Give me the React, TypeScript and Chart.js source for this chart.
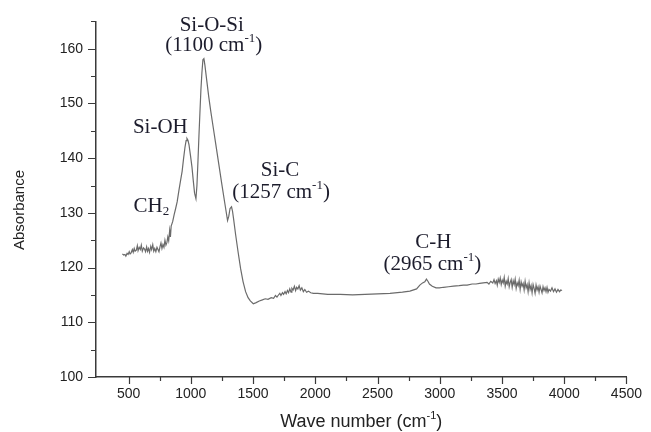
import React, { useEffect, useRef } from "react";
import { Chart, registerables } from "chart.js";

Chart.register(...registerables);

// FTIR spectrum, as [wave number (cm^-1), absorbance] pairs, split by region
const bandRegion: [number, number][] = [
  [450, 122.5], [460, 122.3], [470, 122.4], [478, 122.1], [488, 122.6], [496, 122.4], [505, 122.9], [512, 122.5],
  [520, 122.7], [530, 123.3], [537, 122.8], [545, 123.5], [552, 123.0], [562, 123.2], [570, 124.0], [576, 123.1],
  [585, 123.7], [594, 123.3], [602, 124.1], [610, 123.0], [620, 123.6], [628, 123.4], [636, 122.9], [645, 123.8],
  [652, 123.0], [660, 123.5], [668, 122.8], [678, 123.9], [685, 123.3], [694, 124.2], [702, 123.0], [710, 123.5],
  [719, 122.9], [728, 123.7], [736, 123.3], [744, 122.9], [752, 123.8], [760, 124.5], [768, 123.5], [776, 124.2],
  [784, 123.7], [792, 125.0], [800, 124.1], [808, 124.6], [815, 125.6], [822, 124.9], [830, 126.8], [836, 125.6],
  [842, 127.6], [854, 128.4], [866, 129.7], [878, 130.8], [890, 132.0], [905, 134.2], [918, 136.0], [930, 137.6],
  [942, 140.0], [953, 142.0], [962, 143.2], [969, 143.6], [977, 143.3], [985, 142.5], [997, 140.5], [1009, 138.4],
  [1020, 135.8], [1030, 133.6], [1041, 132.6], [1049, 135.0], [1057, 139.3], [1065, 144.0], [1073, 148.3], [1081, 152.5],
  [1089, 155.6], [1097, 158.0], [1105, 158.2], [1113, 157.0], [1129, 154.0], [1144, 151.2], [1160, 148.6], [1180, 145.6],
  [1200, 142.6], [1224, 139.0], [1248, 135.4], [1272, 131.9], [1295, 128.6], [1305, 129.4], [1315, 130.8], [1327, 131.1],
  [1335, 130.3], [1343, 129.0], [1360, 126.0], [1380, 122.8], [1400, 119.8], [1420, 117.4], [1440, 115.6], [1460, 114.5],
  [1478, 113.9],
];

const midRegion: [number, number][] = [
  [1502, 113.4], [1525, 113.6], [1550, 113.9], [1575, 114.1], [1598, 114.3], [1620, 114.2], [1646, 114.5], [1665, 114.4],
  [1680, 114.9], [1692, 114.6], [1701, 114.9], [1715, 115.3], [1724, 114.9], [1736, 115.4], [1745, 115.1], [1757, 115.6],
  [1766, 115.2], [1776, 115.8], [1785, 115.4], [1795, 116.1], [1805, 115.5], [1812, 116.2], [1822, 115.9], [1832, 116.6],
  [1842, 115.8], [1850, 116.4], [1860, 116.1], [1870, 116.7], [1880, 115.9], [1892, 116.3], [1904, 115.6], [1916, 116.0],
  [1930, 115.5], [1945, 115.7], [1963, 115.4], [1985, 115.3], [2019, 115.3], [2060, 115.2], [2100, 115.1], [2200, 115.1],
  [2300, 115.0], [2400, 115.1], [2500, 115.2], [2600, 115.3], [2700, 115.5], [2760, 115.7], [2814, 116.1], [2840, 116.8],
  [2862, 117.2], [2880, 117.4], [2893, 117.9], [2905, 117.5], [2917, 117.0], [2940, 116.6], [2970, 116.3], [2997, 116.3],
  [3030, 116.4], [3070, 116.5], [3110, 116.6], [3156, 116.7], [3190, 116.8], [3220, 116.8], [3260, 117.0], [3291, 117.0],
  [3320, 117.1], [3350, 117.2],
];

const highRegion: [number, number][] = [
  [3380, 117.3], [3395, 117.0], [3410, 117.5], [3426, 117.2], [3436, 117.8], [3445, 117.1], [3455, 117.6], [3462, 116.8],
  [3470, 117.9], [3478, 117.3], [3486, 118.1], [3494, 116.9], [3502, 117.7], [3510, 117.2], [3518, 118.2], [3526, 116.6],
  [3534, 117.5], [3542, 117.0], [3550, 118.0], [3558, 116.5], [3566, 117.3], [3574, 117.8], [3582, 116.4], [3590, 117.6],
  [3598, 116.9], [3606, 117.9], [3614, 116.2], [3622, 117.2], [3630, 116.7], [3638, 117.7], [3646, 116.0], [3654, 117.4],
  [3662, 116.6], [3670, 117.1], [3678, 115.9], [3686, 117.5], [3694, 116.3], [3702, 116.9], [3710, 115.6], [3718, 117.2],
  [3726, 116.0], [3734, 116.7], [3742, 115.4], [3750, 116.9], [3758, 116.2], [3766, 115.3], [3774, 116.8], [3782, 115.9],
  [3790, 116.5], [3798, 115.5], [3806, 116.6], [3814, 116.0], [3822, 115.4], [3830, 116.5], [3838, 115.8], [3846, 116.3],
  [3854, 115.6], [3862, 116.4], [3870, 115.5], [3878, 116.0], [3890, 115.7], [3902, 116.3], [3914, 115.6], [3926, 116.1],
  [3938, 115.5], [3950, 116.0], [3962, 115.6], [3972, 115.9], [3983, 115.8],
];

const xTickValues = [500, 1000, 1500, 2000, 2500, 3000, 3500, 4000, 4500];
const xMinorTickValues = [750, 1250, 1750, 2250, 2750, 3250, 3750, 4250];
const yTickValues = [100, 110, 120, 130, 140, 150, 160];
const yMinorTickValues = [105, 115, 125, 135, 145, 155, 165];

type Part = { t: string; sup?: boolean; sub?: boolean };
const xTitle: Part[] = [{ t: "Wave number (cm" }, { t: "-1", sup: true }, { t: ")" }];
const yTitle = "Absorbance";

// Peak annotations, anchored in data units (wave number, absorbance)
const peakLabelParts: Part[][] = [
  [{ t: "Si-O-Si" }],
  [{ t: "(1100 cm" }, { t: "-1", sup: true }, { t: ")" }],
  [{ t: "Si-OH" }],
  [{ t: "CH" }, { t: "2", sub: true }],
  [{ t: "Si-C" }],
  [{ t: "(1257 cm" }, { t: "-1", sup: true }, { t: ")" }],
  [{ t: "C-H" }],
  [{ t: "(2965 cm" }, { t: "-1", sup: true }, { t: ")" }],
];
const peakLabelX = [1168, 1184, 755, 683, 1717, 1725, 2949, 2941];
const peakLabelY = [164.5, 160.8, 145.8, 131.5, 138.0, 134.0, 124.8, 120.8];

function drawParts(
  ctx: CanvasRenderingContext2D,
  parts: Part[],
  cx: number,
  cy: number,
  size: number,
  family: string,
  color: string
) {
  const mainFont = `${size}px ${family}`;
  const smallFont = `${Math.round(size * 0.6)}px ${family}`;
  const widths = parts.map((p) => {
    ctx.font = p.sup || p.sub ? smallFont : mainFont;
    return ctx.measureText(p.t).width;
  });
  const total = widths.reduce((a, b) => a + b, 0);
  let x = cx - total / 2;
  const baseline = cy + size * 0.33;
  ctx.fillStyle = color;
  ctx.textAlign = "left";
  ctx.textBaseline = "alphabetic";
  parts.forEach((p, i) => {
    ctx.font = p.sup || p.sub ? smallFont : mainFont;
    const dy = p.sup ? -size * 0.42 : p.sub ? size * 0.18 : 0;
    ctx.fillText(p.t, x, baseline + dy);
    x += widths[i];
  });
}

export default function App() {
  const ref = useRef<HTMLCanvasElement>(null);

  useEffect(() => {
    document.body.style.margin = "0";
    const canvas = ref.current;
    if (!canvas) return;

    const points = [...bandRegion, ...midRegion, ...highRegion].map(([w, a]) => ({ x: w, y: a }));
    const axisColor = "#3a3a3a";
    const serif = "'Liberation Serif', 'Times New Roman', serif";
    const sans = "'Liberation Sans', Arial, sans-serif";

    const decor = {
      id: "decor",
      afterDraw(chart: any) {
        const ctx: CanvasRenderingContext2D = chart.ctx;
        const xs = chart.scales.x;
        const ys = chart.scales.y;
        const area = chart.chartArea;
        ctx.save();
        ctx.strokeStyle = axisColor;
        ctx.lineWidth = 1.2;
        ctx.beginPath();
        xTickValues.forEach((v) => {
          const px = Math.round(xs.getPixelForValue(v)) + 0.5;
          ctx.moveTo(px, area.bottom);
          ctx.lineTo(px, area.bottom + 7);
        });
        xMinorTickValues.forEach((v) => {
          const px = Math.round(xs.getPixelForValue(v)) + 0.5;
          ctx.moveTo(px, area.bottom);
          ctx.lineTo(px, area.bottom + 4);
        });
        yTickValues.forEach((v) => {
          const py = Math.round(ys.getPixelForValue(v)) + 0.5;
          ctx.moveTo(area.left - 8, py);
          ctx.lineTo(area.left, py);
        });
        yMinorTickValues.forEach((v) => {
          const py = Math.round(ys.getPixelForValue(v)) + 0.5;
          ctx.moveTo(area.left - 5, py);
          ctx.lineTo(area.left, py);
        });
        ctx.stroke();

        // axis titles
        drawParts(ctx, xTitle, (area.left + area.right) / 2, 421, 18, sans, "#222222");
        ctx.save();
        ctx.translate(20, 210);
        ctx.rotate(-Math.PI / 2);
        ctx.font = `15px ${sans}`;
        ctx.fillStyle = "#222222";
        ctx.textAlign = "center";
        ctx.textBaseline = "middle";
        ctx.fillText(yTitle, 0, 0);
        ctx.restore();

        // peak annotations
        peakLabelParts.forEach((parts, i) => {
          const cx = xs.getPixelForValue(peakLabelX[i]);
          const cy = ys.getPixelForValue(peakLabelY[i]);
          drawParts(ctx, parts, cx, cy, 21, serif, "#1c1c2c");
        });
        ctx.restore();
      },
    };

    const chart = new Chart(canvas, {
      type: "line",
      data: {
        datasets: [
          {
            data: points,
            borderColor: "#6b6b6b",
            borderWidth: 1.2,
            pointRadius: 0,
            tension: 0,
            fill: false,
          },
        ],
      },
      options: {
        responsive: false,
        animation: false,
        layout: { padding: { top: 18, right: 19, bottom: 0, left: 0 } },
        plugins: { legend: { display: false }, tooltip: { enabled: false } },
        scales: {
          x: {
            type: "linear",
            min: 238,
            max: 4500,
            afterBuildTicks: (s: any) => {
              s.ticks = xTickValues.map((v) => ({ value: v }));
            },
            afterFit: (s: any) => {
              s.height = 55;
            },
            grid: { display: false, drawTicks: false },
            border: { display: true, color: axisColor, width: 1.5 },
            ticks: {
              font: { family: sans, size: 14 },
              color: "#222222",
              padding: 9,
              maxRotation: 0,
              autoSkip: false,
              callback: (v: any) => String(v),
            },
          },
          y: {
            type: "linear",
            min: 100,
            max: 165,
            afterBuildTicks: (s: any) => {
              s.ticks = yTickValues.map((v) => ({ value: v }));
            },
            afterFit: (s: any) => {
              s.width = 96;
            },
            grid: { display: false, drawTicks: false },
            border: { display: true, color: axisColor, width: 1.5 },
            ticks: {
              font: { family: sans, size: 14 },
              color: "#222222",
              padding: 13,
              autoSkip: false,
              callback: (v: any) => String(v),
            },
          },
        },
      },
      plugins: [decor],
    });

    return () => chart.destroy();
  }, []);

  return (
    <div style={{ width: 651, height: 432 }}>
      <canvas ref={ref} width={651} height={432} style={{ display: "block" }} />
    </div>
  );
}
